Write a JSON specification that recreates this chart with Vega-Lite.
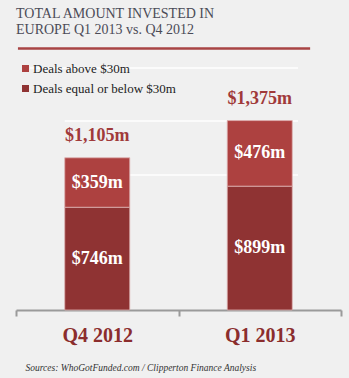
{
  "$schema": "https://vega.github.io/schema/vega-lite/v6.json",
  "width": 325,
  "height": 270,
  "autosize": {"type": "none"},
  "padding": {"left": 16, "top": 40, "right": 8, "bottom": 68},
  "background": "#f0f0f0",
  "config": {
    "view": {"stroke": null},
    "font": "Liberation Serif",
    "legend": {"labelFont": "Liberation Serif", "titleFont": "Liberation Serif"},
    "axis": {"labelFont": "Liberation Serif", "titleFont": "Liberation Serif"},
    "text": {"font": "Liberation Serif"}
  },
  "title": {
    "text": ["TOTAL AMOUNT INVESTED IN", "EUROPE Q1 2013 vs. Q4 2012"],
    "anchor": "start",
    "frame": "group",
    "font": "Liberation Serif",
    "fontSize": 14,
    "fontWeight": "normal",
    "color": "#4b4b57",
    "lineHeight": 16,
    "offset": 3
  },
  "datasets": {
    "amounts": [
      {"quarter": "Q4 2012", "category": "Deals equal or below $30m", "value": 746},
      {"quarter": "Q4 2012", "category": "Deals above $30m", "value": 359},
      {"quarter": "Q1 2013", "category": "Deals equal or below $30m", "value": 899},
      {"quarter": "Q1 2013", "category": "Deals above $30m", "value": 476}
    ],
    "grid": [{"level": 980}, {"level": 1372}],
    "gridTop": [{"level": 1757}],
    "divider": [{"level": 1898}]
  },
  "layer": [
    {
      "data": {"name": "grid"},
      "mark": {"type": "rule", "color": "#ffffff", "strokeWidth": 1.5},
      "encoding": {
        "x": {
          "datum": "Q4 2012",
          "type": "nominal",
          "bandPosition": 0.3,
          "scale": {"domain": ["Q4 2012", "Q1 2013"], "paddingInner": 0, "paddingOuter": 0},
          "axis": {
            "bandPosition": 0.5,
            "title": "Sources: WhoGotFunded.com / Clipperton Finance Analysis",
            "titleFont": "Liberation Serif",
            "titleFontStyle": "italic",
            "titleFontWeight": "normal",
            "titleFontSize": 9.5,
            "titleColor": "#333333",
            "titleAnchor": "start",
            "titleAlign": "left",
            "titleX": 9,
            "titleY": 60,
            "titleBaseline": "alphabetic",
            "labelAngle": 0,
            "labelAlign": "center",
            "labelFont": "Liberation Serif",
            "labelFontSize": 20,
            "labelFontWeight": "bold",
            "labelColor": "#8b2d2d",
            "labelPadding": 9,
            "tickBand": "extent",
            "tickSize": 6,
            "tickWidth": 2,
            "tickColor": "#9a9a9a",
            "domainColor": "#9a9a9a",
            "domainWidth": 2,
            "grid": false
          }
        },
        "x2": {"datum": "Q1 2013", "bandPosition": 0.735},
        "y": {"field": "level", "type": "quantitative", "scale": {"domain": [0, 1960], "nice": false, "zero": true}, "axis": null}
      }
    },
    {
      "data": {"name": "gridTop"},
      "mark": {"type": "rule", "color": "#ffffff", "strokeWidth": 1.5},
      "encoding": {
        "x": {"datum": "Q4 2012", "type": "nominal", "bandPosition": 0.086},
        "x2": {"datum": "Q1 2013", "bandPosition": 0.735},
        "y": {"field": "level", "type": "quantitative", "axis": null}
      }
    },
    {
      "data": {"name": "divider"},
      "mark": {"type": "rule", "color": "#a84444", "strokeWidth": 2.5},
      "encoding": {
        "x": {"datum": "Q4 2012", "type": "nominal", "bandPosition": 0.012},
        "x2": {"datum": "Q1 2013", "bandPosition": 0.81},
        "y": {"field": "level", "type": "quantitative", "axis": null}
      }
    },
    {
      "data": {"name": "amounts"},
      "mark": {"type": "bar", "width": {"band": 0.4}, "stroke": "#dcb0b0", "strokeWidth": 1, "strokeOpacity": 0.8},
      "encoding": {
        "x": {"field": "quarter", "type": "nominal"},
        "y": {"field": "value", "type": "quantitative", "stack": "zero", "axis": null},
        "order": {"field": "category", "sort": "descending"},
        "color": {
          "field": "category",
          "type": "nominal",
          "scale": {"domain": ["Deals above $30m", "Deals equal or below $30m"], "range": ["#ad4140", "#8f3333"]},
          "legend": {
            "title": null,
            "orient": "none",
            "legendX": 3,
            "legendY": 22,
            "symbolType": "square",
            "symbolSize": 49,
            "symbolStrokeWidth": 0,
            "symbolOpacity": 1,
            "labelFont": "Liberation Serif",
            "labelFontSize": 13,
            "labelColor": "#222222",
            "labelOffset": 1,
            "rowPadding": 6,
            "padding": 0
          }
        }
      }
    },
    {
      "data": {"name": "amounts"},
      "transform": [
        {"stack": "value", "groupby": ["quarter"], "sort": [{"field": "category", "order": "descending"}], "as": ["v0", "v1"]},
        {"calculate": "(datum.v0 + datum.v1) / 2", "as": "mid"},
        {"calculate": "'$' + format(datum.value, ',') + 'm'", "as": "label"}
      ],
      "mark": {"type": "text", "font": "Liberation Serif", "fontWeight": "bold", "fontSize": 18, "color": "#ffffff", "baseline": "middle"},
      "encoding": {
        "x": {"field": "quarter", "type": "nominal"},
        "y": {"field": "mid", "type": "quantitative", "axis": null},
        "text": {"field": "label"}
      }
    },
    {
      "data": {"name": "amounts"},
      "transform": [
        {"aggregate": [{"op": "sum", "field": "value", "as": "total"}], "groupby": ["quarter"]},
        {"calculate": "'$' + format(datum.total, ',') + 'm'", "as": "label"}
      ],
      "mark": {"type": "text", "font": "Liberation Serif", "fontWeight": "bold", "fontSize": 18, "color": "#a03a3a", "baseline": "alphabetic", "dy": -17},
      "encoding": {
        "x": {"field": "quarter", "type": "nominal"},
        "y": {"field": "total", "type": "quantitative", "axis": null},
        "text": {"field": "label"}
      }
    }
  ]
}
